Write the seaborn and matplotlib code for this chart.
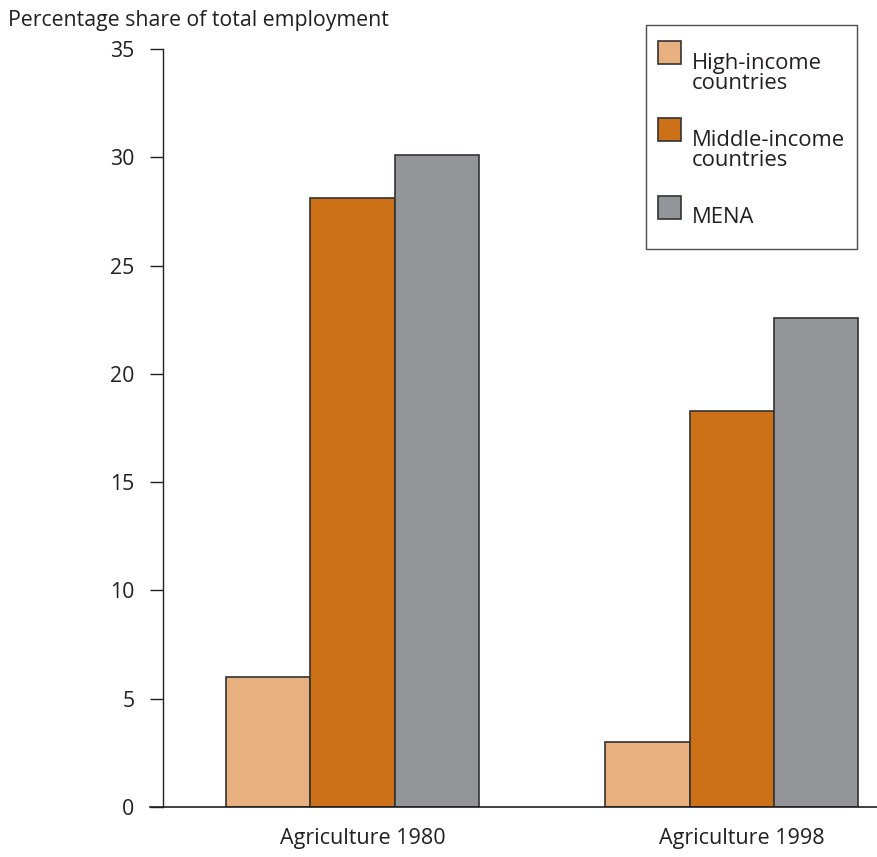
import pandas as pd
import seaborn as sns
import matplotlib.pyplot as plt
from matplotlib.transforms import ScaledTranslation

# Values
sectors = ["Agriculture 1980", "Agriculture 1998"]
groups = ["High-income\ncountries", "Middle-income\ncountries", "MENA"]
high_income = [6.0, 3.0]
middle_income = [28.1, 18.3]
mena = [30.1, 22.6]
colors = ["#E8B07E", "#CC7118", "#939598"]

df = pd.DataFrame({
    "sector": sectors * 3,
    "group": [g for g in groups for _ in sectors],
    "share": high_income + middle_income + mena,
})

sns.set_style("white")
plt.rcParams["font.family"] = ["Open Sans", "DejaVu Sans"]
ink = "#231F20"

W, H = 878, 857
fig = plt.figure(figsize=(W / 100, H / 100), dpi=100)
ax = fig.add_axes([163 / W, 1 - 807 / H, 1 - 163 / W, (807 - 49) / H])

sns.barplot(data=df, x="sector", y="share", hue="group", hue_order=groups,
            palette=colors, width=0.667, gap=0, edgecolor="#333333",
            linewidth=1.2, saturation=1, ax=ax)

ax.set_xlim(-0.5, 1.385)
ax.set_ylim(0, 35)
ax.set_yticks(range(0, 36, 5))
ax.set_xlabel("")
ax.set_ylabel("")
ax.tick_params(axis="y", length=9.5, width=1, color=ink, labelsize=15.3,
               direction="out", left=True, pad=11, labelcolor=ink)
ax.tick_params(axis="x", length=0, labelsize=15.5, pad=15, labelcolor=ink)
# category labels sit a little right of the group centres
shift = ScaledTranslation(10 / 100, 0, fig.dpi_scale_trans)
for lbl in ax.get_xticklabels():
    lbl.set_transform(lbl.get_transform() + shift)

sns.despine(ax=ax, top=True, right=True)
ax.spines["left"].set_color(ink)
ax.spines["bottom"].set_color(ink)
ax.spines["left"].set_linewidth(1)
ax.spines["bottom"].set_linewidth(1.2)
ax.spines["bottom"].set_bounds(-0.5 - 13 / 379.5, 1.385)

# legend: square swatches sitting slightly above their labels
fs = 15.8
leg = ax.legend(loc="upper right", fontsize=fs, frameon=True, fancybox=False,
                edgecolor=ink, handlelength=1.05, handleheight=1.7,
                labelspacing=1.65, borderpad=0.55, handletextpad=0.5,
                borderaxespad=0, title=" ", title_fontsize=1)
leg.set_bbox_to_anchor((857 / W, 1 - 25 / H), transform=fig.transFigure)
leg.get_frame().set_linewidth(1)
leg._legend_box.sep = 10.5
for t in leg.get_texts():
    t.set_linespacing(0.95)
    t.set_color(ink)
for row in leg._legend_handle_box.get_children()[0].get_children():
    row.align = "top"
side = 16.5
up = 8.5
for p in leg.legend_handles:
    top = p.get_y() + p.get_height()
    p.set_height(side)
    p.set_width(side)
    p.set_y(top + up - side)

fig.text(8 / W, 1 - 26 / H, "Percentage share of total employment",
         fontsize=15.3, color=ink, va="baseline", ha="left")

plt.savefig("out.png", dpi=100)
